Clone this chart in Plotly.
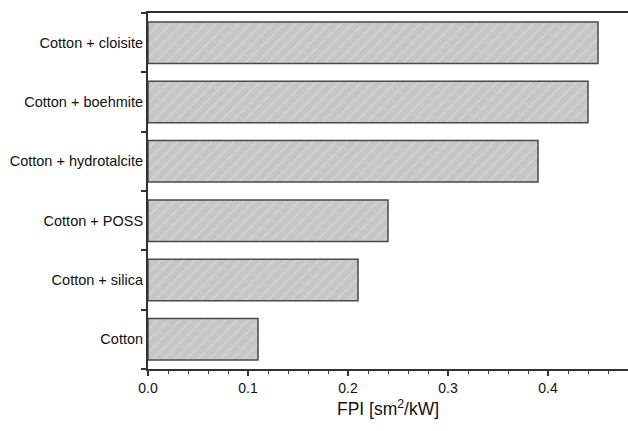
import plotly.graph_objects as go

categories = ["Cotton", "Cotton + silica", "Cotton + POSS", "Cotton + hydrotalcite",
              "Cotton + boehmite", "Cotton + cloisite"]
fpi_values = [0.11, 0.21, 0.24, 0.39, 0.44, 0.45]
x_tick_vals = [0.0, 0.1, 0.2, 0.3, 0.4]
x_tick_text = ["0.0", "0.1", "0.2", "0.3", "0.4"]

fig = go.Figure()
fig.add_trace(go.Bar(
    y=categories, x=fpi_values, orientation="h", width=0.7,
    marker=dict(
        color="#c6c6c6",
        line=dict(color="#4a4a4a", width=1.5),
        pattern=dict(shape="/", fgcolor="#e6e6e6", bgcolor="#c6c6c6", size=8, solidity=0.15),
    ),
))

fig.update_layout(
    width=628, height=431,
    margin=dict(l=148, r=0, t=13, b=62, autoexpand=False),
    paper_bgcolor="white", plot_bgcolor="white",
    showlegend=False,
    font=dict(family="Liberation Sans, Arial", size=14, color="#111"),
)
fig.update_xaxes(
    range=[0, 0.48], tickvals=x_tick_vals, ticktext=x_tick_text,
    ticks="outside", ticklen=5, tickwidth=1.5, tickcolor="#333",
    minor=dict(dtick=0.02, ticks="outside", ticklen=3, tickwidth=1.2, tickcolor="#333"),
    showline=True, linecolor="#333", linewidth=2, mirror=True,
    showgrid=False, zeroline=False,
    title=dict(text="FPI [sm<sup>2</sup>/kW]", font=dict(size=17.5), standoff=8),
    tickfont=dict(size=14),
    automargin=False,
)
fig.update_yaxes(
    tickson="boundaries", ticks="outside", ticklen=5, tickwidth=1.5, tickcolor="#333",
    showline=True, linecolor="#333", linewidth=2,
    showgrid=False, zeroline=False,
    tickfont=dict(size=14.5),
    range=[-0.5, 5.5],
    automargin=False,
)

fig.write_html("out.html", config={"displayModeBar": False},
               post_script="document.body.style.margin='0';")
